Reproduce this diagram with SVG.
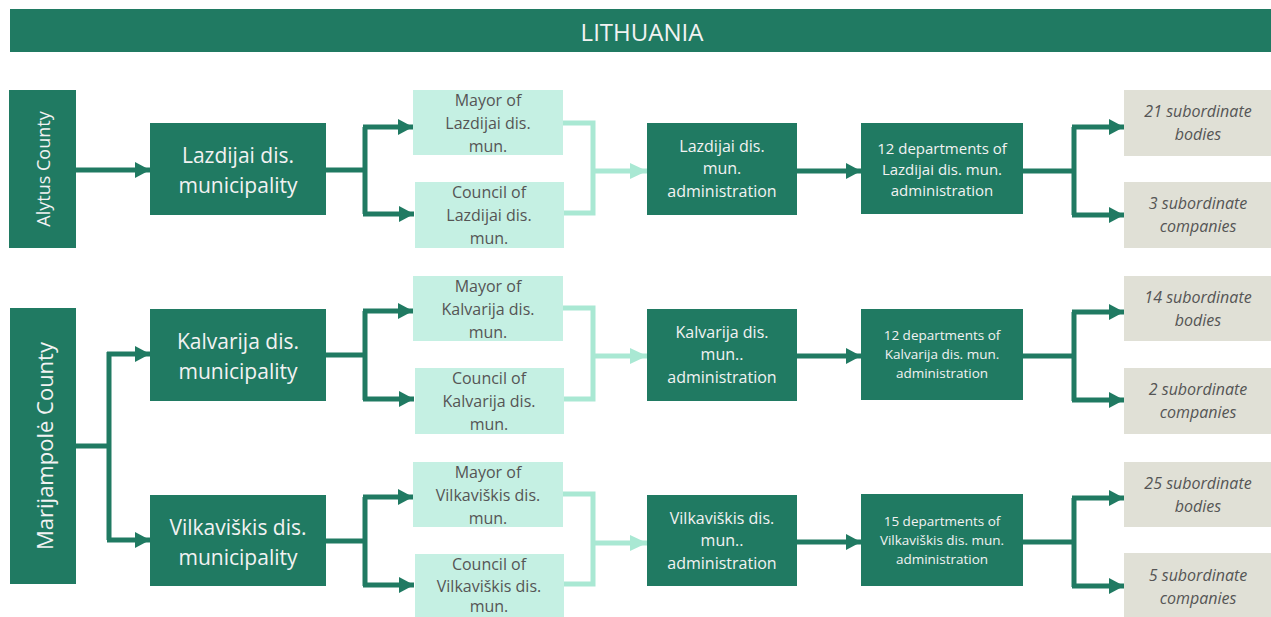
<svg xmlns="http://www.w3.org/2000/svg" width="1271" height="617" viewBox="0 0 1271 617">
<defs>
<style>
.dark{fill:#207A62}
.mint{fill:#C5F0E3}
.grey{fill:#E0E0D6}
text{font-family:"Open Sans","Noto Sans","Liberation Sans",sans-serif;text-anchor:middle;dominant-baseline:central}
.wt{fill:#F2F2F2}
.gt{fill:#555555}
.c{fill:none;stroke:#207A62;stroke-width:5}
.cl{fill:none;stroke:#A9E8D3;stroke-width:5}
</style>
<marker id="ad" markerUnits="userSpaceOnUse" markerWidth="16" markerHeight="18" refX="15" refY="8" orient="auto" viewBox="0 0 16 16">
<path d="M0,0 L15,8 L0,16 Z" fill="#207A62"/>
</marker>
<marker id="al" markerUnits="userSpaceOnUse" markerWidth="18" markerHeight="18" refX="17" refY="8" orient="auto" viewBox="0 0 18 16">
<path d="M0,0 L17,8 L0,16 Z" fill="#A9E8D3"/>
</marker>
</defs>
<rect width="1271" height="617" fill="#FFFFFF"/>

<g id="title">
<rect class="dark" x="10" y="9" width="1261" height="43"/>
<text class="wt" x="642" y="31" font-size="24">LITHUANIA</text>
</g>

<g id="connectors">
<!-- row 1 -->
<path class="c" d="M76,170 H150" marker-end="url(#ad)"/>
<path class="c" d="M326,170 H365 M365,127 V214"/>
<path class="c" d="M363,127 H413" marker-end="url(#ad)"/>
<path class="c" d="M363,214 H414" marker-end="url(#ad)"/>
<path class="cl" d="M561,123 H593 V213 H561"/>
<path class="cl" d="M593,171 H647" marker-end="url(#al)"/>
<path class="c" d="M797,171 H861" marker-end="url(#ad)"/>
<path class="c" d="M1023,171 H1074 M1074,127 V215"/>
<path class="c" d="M1072,127 H1124" marker-end="url(#ad)"/>
<path class="c" d="M1072,215 H1124" marker-end="url(#ad)"/>
<!-- Marijampole -->
<path class="c" d="M76,446 H109 M109,352 V540"/>
<path class="c" d="M107,354 H150" marker-end="url(#ad)"/>
<path class="c" d="M107,540 H150" marker-end="url(#ad)"/>
<!-- row 2 -->
<path class="c" d="M326,355 H365 M365,311 V400"/>
<path class="c" d="M363,311 H413" marker-end="url(#ad)"/>
<path class="c" d="M363,399 H414" marker-end="url(#ad)"/>
<path class="cl" d="M561,308 H593 V399 H561"/>
<path class="cl" d="M593,356 H647" marker-end="url(#al)"/>
<path class="c" d="M797,356 H861" marker-end="url(#ad)"/>
<path class="c" d="M1023,356 H1074 M1074,312 V401"/>
<path class="c" d="M1072,312 H1124" marker-end="url(#ad)"/>
<path class="c" d="M1072,400 H1124" marker-end="url(#ad)"/>
<!-- row 3 -->
<path class="c" d="M326,541 H365 M365,497 V586"/>
<path class="c" d="M363,497 H413" marker-end="url(#ad)"/>
<path class="c" d="M363,585 H414" marker-end="url(#ad)"/>
<path class="cl" d="M561,494 H593 V584 H561"/>
<path class="cl" d="M593,543 H647" marker-end="url(#al)"/>
<path class="c" d="M797,542 H861" marker-end="url(#ad)"/>
<path class="c" d="M1023,542 H1074 M1074,498 V587"/>
<path class="c" d="M1072,498 H1124" marker-end="url(#ad)"/>
<path class="c" d="M1072,586 H1124" marker-end="url(#ad)"/>
</g>

<g id="alytus">
<rect class="dark" x="9" y="90" width="67" height="158"/>
<text class="wt" transform="translate(43,169) rotate(-90)" font-size="18">Alytus County</text>
</g>
<g id="marijampole">
<rect class="dark" x="10" y="308" width="66" height="276"/>
<text class="wt" transform="translate(44,446) rotate(-90)" font-size="22">Marijampolė County</text>
</g>

<!-- Row 1 -->
<g id="lazdijai-mun">
<rect class="dark" x="150" y="123" width="176" height="92"/>
<text class="wt" font-size="21"><tspan x="238" y="155">Lazdijai dis.</tspan><tspan x="238" y="185">municipality</tspan></text>
</g>
<g id="lazdijai-mayor">
<rect class="mint" x="413" y="90" width="150" height="65"/>
<text class="gt" font-size="16"><tspan x="488" y="100">Mayor of</tspan><tspan x="488" y="123">Lazdijai dis.</tspan><tspan x="488" y="146">mun.</tspan></text>
</g>
<g id="lazdijai-council">
<rect class="mint" x="415" y="182" width="149" height="66"/>
<text class="gt" font-size="16"><tspan x="489" y="192">Council of</tspan><tspan x="489" y="215">Lazdijai dis.</tspan><tspan x="489" y="238">mun.</tspan></text>
</g>
<g id="lazdijai-admin">
<rect class="dark" x="647" y="123" width="150" height="92"/>
<text class="wt" font-size="16"><tspan x="722" y="146">Lazdijai dis.</tspan><tspan x="722" y="168">mun.</tspan><tspan x="722" y="191">administration</tspan></text>
</g>
<g id="lazdijai-dept">
<rect class="dark" x="861" y="123" width="162" height="91"/>
<text class="wt" font-size="15"><tspan x="942" y="148">12 departments of</tspan><tspan x="942" y="169">Lazdijai dis. mun.</tspan><tspan x="942" y="190">administration</tspan></text>
</g>
<g id="lazdijai-bodies">
<rect class="grey" x="1124" y="90" width="147" height="66"/>
<text class="gt" font-size="16" font-style="italic"><tspan x="1198" y="111">21 subordinate</tspan><tspan x="1198" y="134">bodies</tspan></text>
</g>
<g id="lazdijai-companies">
<rect class="grey" x="1124" y="182" width="147" height="66"/>
<text class="gt" font-size="16" font-style="italic"><tspan x="1198" y="203">3 subordinate</tspan><tspan x="1198" y="226">companies</tspan></text>
</g>

<!-- Row 2 -->
<g id="kalvarija-mun">
<rect class="dark" x="150" y="309" width="176" height="92"/>
<text class="wt" font-size="21"><tspan x="238" y="341">Kalvarija dis.</tspan><tspan x="238" y="371">municipality</tspan></text>
</g>
<g id="kalvarija-mayor">
<rect class="mint" x="413" y="276" width="150" height="65"/>
<text class="gt" font-size="16"><tspan x="488" y="286">Mayor of</tspan><tspan x="488" y="309">Kalvarija dis.</tspan><tspan x="488" y="332">mun.</tspan></text>
</g>
<g id="kalvarija-council">
<rect class="mint" x="415" y="368" width="149" height="66"/>
<text class="gt" font-size="16"><tspan x="489" y="378">Council of</tspan><tspan x="489" y="401">Kalvarija dis.</tspan><tspan x="489" y="424">mun.</tspan></text>
</g>
<g id="kalvarija-admin">
<rect class="dark" x="647" y="309" width="150" height="92"/>
<text class="wt" font-size="16"><tspan x="722" y="332">Kalvarija dis.</tspan><tspan x="722" y="354">mun..</tspan><tspan x="722" y="377">administration</tspan></text>
</g>
<g id="kalvarija-dept">
<rect class="dark" x="861" y="309" width="162" height="91"/>
<text class="wt" font-size="13.5"><tspan x="942" y="335">12 departments of</tspan><tspan x="942" y="354">Kalvarija dis. mun.</tspan><tspan x="942" y="373">administration</tspan></text>
</g>
<g id="kalvarija-bodies">
<rect class="grey" x="1124" y="276" width="147" height="65"/>
<text class="gt" font-size="16" font-style="italic"><tspan x="1198" y="297">14 subordinate</tspan><tspan x="1198" y="320">bodies</tspan></text>
</g>
<g id="kalvarija-companies">
<rect class="grey" x="1124" y="368" width="147" height="66"/>
<text class="gt" font-size="16" font-style="italic"><tspan x="1198" y="389">2 subordinate</tspan><tspan x="1198" y="412">companies</tspan></text>
</g>

<!-- Row 3 -->
<g id="vilkaviskis-mun">
<rect class="dark" x="150" y="495" width="176" height="91"/>
<text class="wt" font-size="21"><tspan x="238" y="527">Vilkaviškis dis.</tspan><tspan x="238" y="557">municipality</tspan></text>
</g>
<g id="vilkaviskis-mayor">
<rect class="mint" x="413" y="462" width="150" height="65"/>
<text class="gt" font-size="16"><tspan x="488" y="472">Mayor of</tspan><tspan x="488" y="495">Vilkaviškis dis.</tspan><tspan x="488" y="518">mun.</tspan></text>
</g>
<g id="vilkaviskis-council">
<rect class="mint" x="415" y="554" width="149" height="63"/>
<text class="gt" font-size="16"><tspan x="489" y="564">Council of</tspan><tspan x="489" y="586">Vilkaviškis dis.</tspan><tspan x="489" y="606">mun.</tspan></text>
</g>
<g id="vilkaviskis-admin">
<rect class="dark" x="647" y="495" width="150" height="91"/>
<text class="wt" font-size="16"><tspan x="722" y="518">Vilkaviškis dis.</tspan><tspan x="722" y="540">mun..</tspan><tspan x="722" y="563">administration</tspan></text>
</g>
<g id="vilkaviskis-dept">
<rect class="dark" x="861" y="494" width="162" height="92"/>
<text class="wt" font-size="13.5"><tspan x="942" y="521">15 departments of</tspan><tspan x="942" y="540">Vilkaviškis dis. mun.</tspan><tspan x="942" y="559">administration</tspan></text>
</g>
<g id="vilkaviskis-bodies">
<rect class="grey" x="1124" y="462" width="147" height="65"/>
<text class="gt" font-size="16" font-style="italic"><tspan x="1198" y="483">25 subordinate</tspan><tspan x="1198" y="506">bodies</tspan></text>
</g>
<g id="vilkaviskis-companies">
<rect class="grey" x="1124" y="553" width="147" height="64"/>
<text class="gt" font-size="16" font-style="italic"><tspan x="1198" y="575">5 subordinate</tspan><tspan x="1198" y="598">companies</tspan></text>
</g>
</svg>
